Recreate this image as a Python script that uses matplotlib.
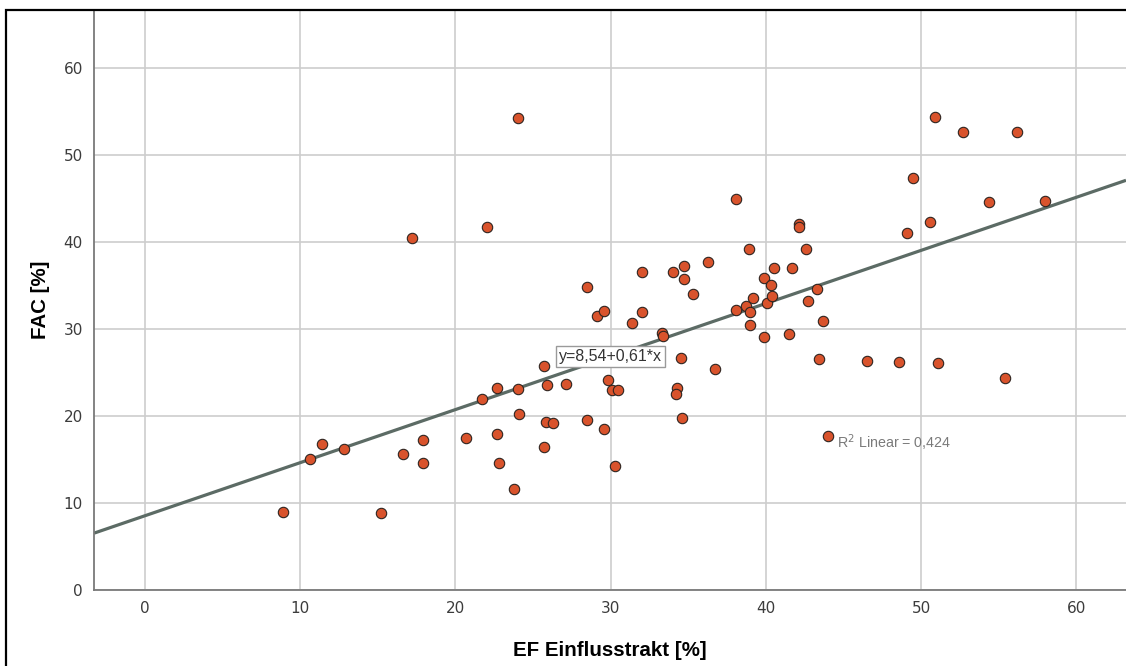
"""
Streudiagramm FAC vs. EF Einflusstrakt mit linearer Anpassungslinie.
Speichert out.png.
"""
import numpy as np
import matplotlib
matplotlib.use("Agg")
import matplotlib.pyplot as plt
import matplotlib.patches as mpatches

# ── Daten ───────────────────────────────────────────────────────────────────
ef_einfluss = [
    8.9, 10.6, 11.4, 12.8, 15.2, 16.6, 17.9, 17.9, 17.2, 20.7,
    21.7, 22.0, 22.7, 22.7, 22.8, 23.8, 24.0, 24.0, 24.1, 25.7,
    25.9, 25.8, 26.3, 25.7, 27.1, 28.5, 28.5, 29.1, 29.6, 29.8,
    29.6, 30.1, 30.5, 30.3, 31.4, 32.0, 32.0, 33.3, 33.4, 34.0,
    34.7, 34.7, 35.3, 34.5, 34.3, 34.2, 34.6, 36.3, 36.7, 38.1,
    38.9, 38.1, 38.7, 39.0, 39.0, 39.2, 39.9, 39.9, 40.1, 40.3,
    40.4, 40.5, 41.5, 41.7, 42.1, 42.1, 42.6, 42.7, 43.3, 43.7,
    43.4, 44.0, 46.5, 48.6, 49.1, 49.5, 50.6, 50.9, 51.1, 52.7,
    54.4, 55.4, 56.2, 58.0,
]
fac = [
    9.0, 15.1, 16.8, 16.2, 8.9, 15.6, 17.2, 14.6, 40.5, 17.5,
    22.0, 41.7, 23.2, 17.9, 14.6, 11.6, 54.3, 23.1, 20.2, 25.7,
    23.6, 19.3, 19.2, 16.4, 23.7, 34.8, 19.5, 31.5, 32.1, 24.1,
    18.5, 23.0, 23.0, 14.3, 30.7, 36.6, 32.0, 29.5, 29.2, 36.5,
    37.2, 35.7, 34.0, 26.7, 23.2, 22.5, 19.8, 37.7, 25.4, 44.9,
    39.2, 32.2, 32.6, 31.9, 30.5, 33.6, 35.9, 29.1, 33.0, 35.1,
    33.8, 37.0, 29.4, 37.0, 42.1, 41.7, 39.2, 33.2, 34.6, 30.9,
    26.6, 17.7, 26.3, 26.2, 41.0, 47.4, 42.3, 54.4, 26.1, 52.7,
    44.6, 24.4, 52.7, 44.7,
]

# Regressionskoeffizienten (y = a + b*x) und Bestimmtheitsmaß
fit_a = 8.54
fit_b = 0.61
r2 = 0.424

x_ticks = [0, 10, 20, 30, 40, 50, 60]
y_ticks = [0, 10, 20, 30, 40, 50, 60]

# ── Figur ───────────────────────────────────────────────────────────────────
W, H = 1126, 666
fig = plt.figure(figsize=(W / 100, H / 100), dpi=100)
fig.patch.set_facecolor("white")

# Achsenbereich in Pixeln: links 94, oben 10, unten 590, rechts bis Bildrand
ax = fig.add_axes([94 / W, (H - 590) / H, 1 - 94 / W, (590 - 10) / H])
ax.set_xlim(-3.29, 63.2)
ax.set_ylim(0, 66.67)

grid_col = "#cdcdcd"
ax.set_xticks(x_ticks)
ax.set_yticks(y_ticks)
ax.grid(True, color=grid_col, linewidth=1.2, zorder=0)
ax.set_axisbelow(True)
ax.tick_params(length=0, labelsize=11, labelcolor="#3c3c3c", pad=8)
for lab in ax.get_xticklabels() + ax.get_yticklabels():
    lab.set_family("DejaVu Sans")

for side in ("top", "right"):
    ax.spines[side].set_visible(False)
for side in ("left", "bottom"):
    ax.spines[side].set_color("#7a7a7a")
    ax.spines[side].set_linewidth(1.3)

# ── Anpassungslinie über den ganzen Bereich ─────────────────────────────────
xl = np.array(ax.get_xlim())
ax.plot(xl, fit_a + fit_b * xl, color="#5c6b65", linewidth=2.3,
        solid_capstyle="butt", zorder=2)

# ── Punkte ──────────────────────────────────────────────────────────────────
ax.scatter(ef_einfluss, fac, s=56, c="#d9532c", edgecolors="#2e2420",
           linewidths=0.8, zorder=3)

# ── Beschriftungen ──────────────────────────────────────────────────────────
x_box = 30.0
ax.text(x_box, fit_a + fit_b * x_box, f"y={fit_a:.2f}+{fit_b:.2f}*x".replace(".", ","),
        ha="center", va="center", fontsize=11.5, color="#333333",
        family="Liberation Sans", zorder=4,
        bbox=dict(boxstyle="square,pad=0.2", fc="white", ec="#9a9a9a", lw=1.0))

ax.text(44.6, 16.9, f"R$^2$ Linear = {r2:.3f}".replace(".", ","),
        ha="left", va="center", fontsize=10.3, color="#7a7a7a",
        family="Liberation Sans", zorder=4)

ax.set_xlabel("EF Einflusstrakt [%]", fontsize=14.8, fontweight="bold",
              family="Liberation Sans", labelpad=18)
ax.set_ylabel("FAC [%]", fontsize=14.8, fontweight="bold",
              family="Liberation Sans", labelpad=10)

# äußerer Rahmen
frame = mpatches.Rectangle((6 / W, -0.1), 1.2, (H - 10) / H + 0.1,
                           transform=fig.transFigure, fill=False,
                           edgecolor="black", linewidth=1.6, zorder=10)
fig.patches.append(frame)

fig.savefig("out.png", dpi=100)
plt.close(fig)
